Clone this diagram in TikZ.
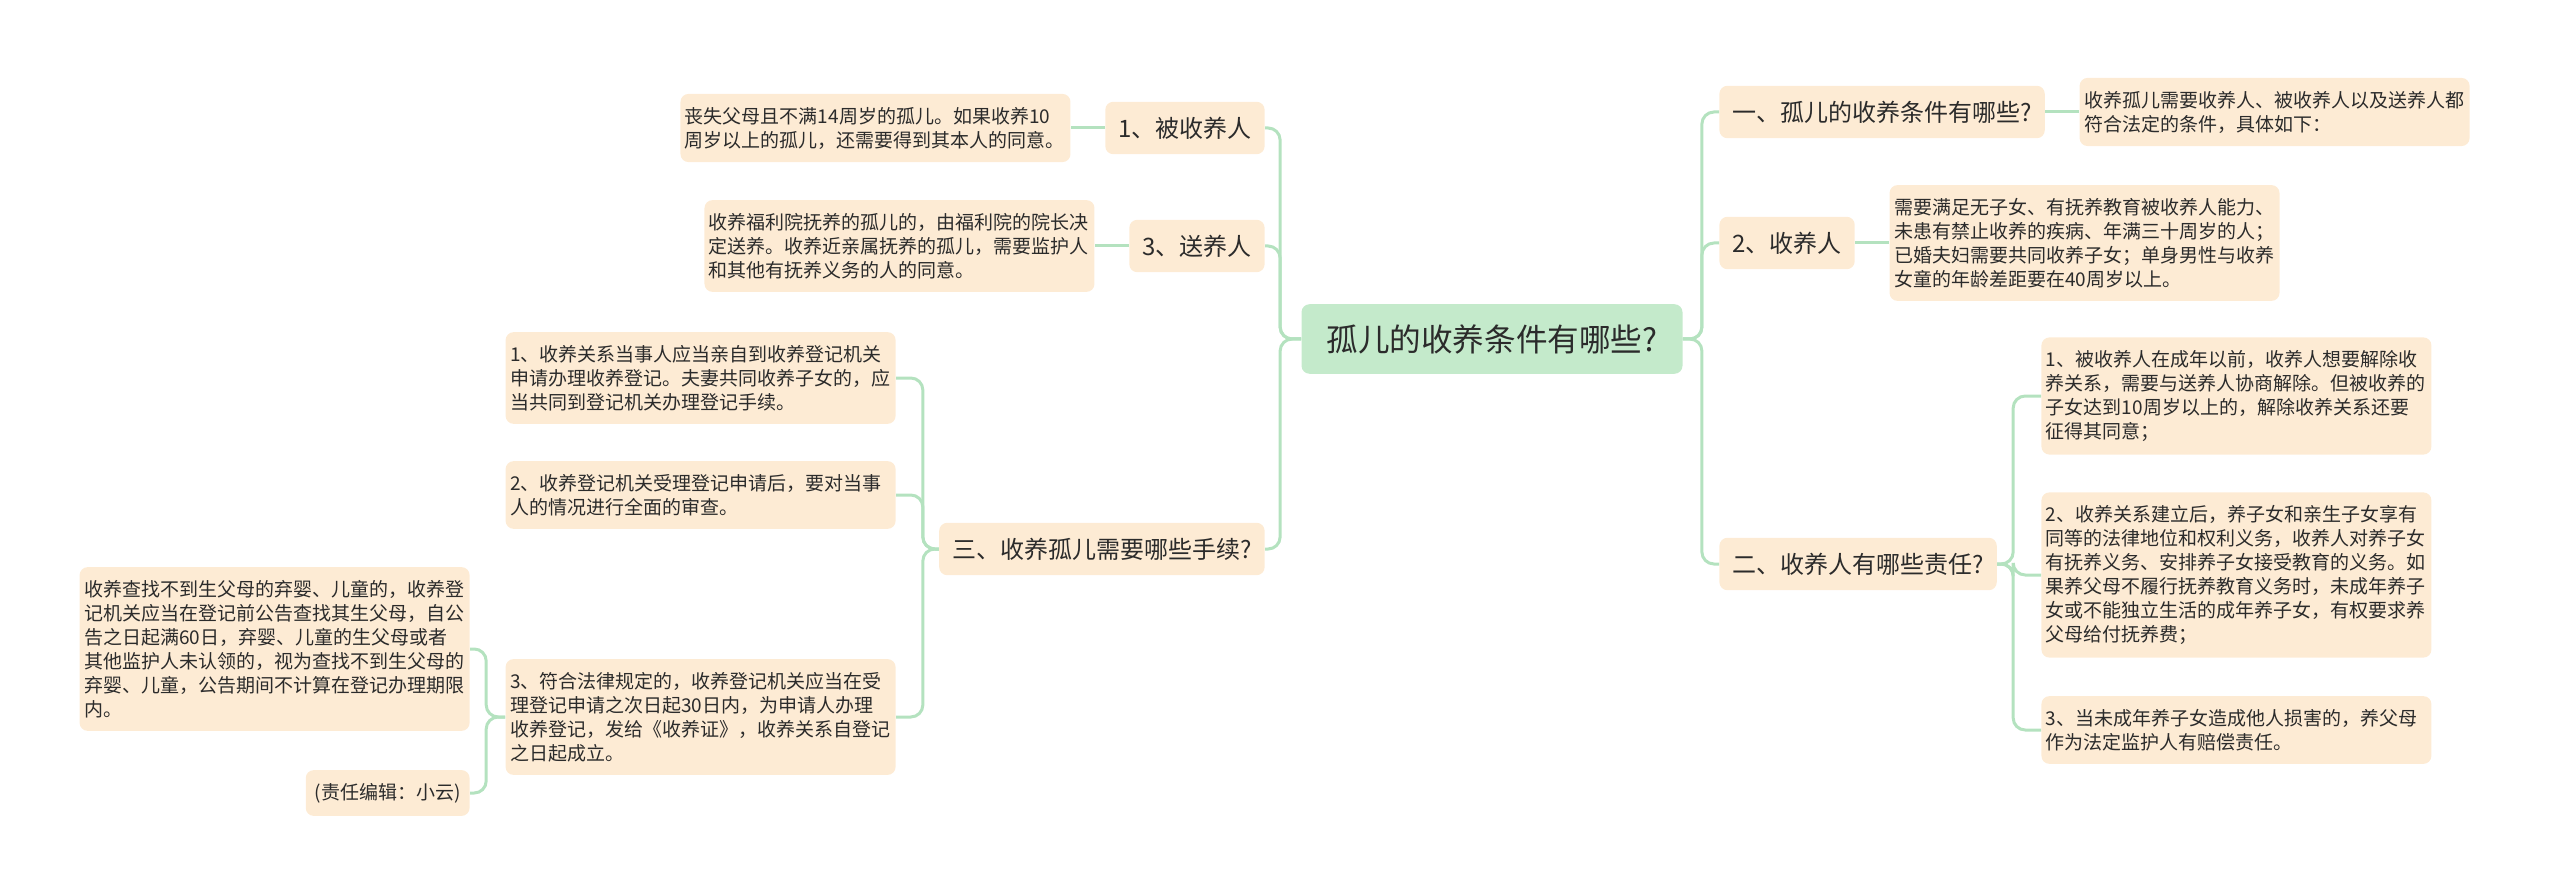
\documentclass[tikz,border=0pt]{standalone}
\usepackage{fontspec}
\newfontfamily\cjk{Noto Sans CJK SC}
\usetikzlibrary{positioning}
\definecolor{peach}{HTML}{FDEBD4}
\definecolor{mint}{HTML}{C4EACB}
\definecolor{stem}{HTML}{B4E2BF}
\definecolor{ink}{HTML}{2B2B2B}

\begin{document}
\begin{tikzpicture}[x=0.5pt,y=-0.5pt,node distance=17pt,
    root node/.style={fill=mint,rounded corners=4pt,text=ink,font=\cjk\fontsize{15.8}{18}\selectfont,inner xsep=12.5pt,inner ysep=10pt},
    branch node/.style={fill=peach,rounded corners=4pt,text=ink,font=\cjk\fontsize{12}{14}\selectfont,inner xsep=6.5pt,inner ysep=7.5pt},
    leaf node/.style={fill=peach,rounded corners=4pt,text=ink,font=\cjk\fontsize{9.5}{12}\selectfont,text width=190.5pt,align=left,inner xsep=2.25pt,inner ysep=6.5pt},
    note node/.style={fill=peach,rounded corners=4pt,text=ink,font=\cjk\fontsize{9.5}{12}\selectfont,inner xsep=4.5pt,inner ysep=6.5pt},
    link/.style={draw=stem,line width=1.5pt,rounded corners=6pt}]
\useasboundingbox (0,0) rectangle (2560,893);

\node[root node] (root) at (1492,339) {孤儿的收养条件有哪些?};

% left side
\node[branch node,anchor=east] (b1) at (1265,128) {1、被收养人};
\node[leaf node,left=of b1] (b1t) {丧失父母且不满14周岁的孤儿。如果收养10\\周岁以上的孤儿，还需要得到其本人的同意。};
\node[branch node,anchor=east] (b3) at (1265,246) {3、送养人};
\node[leaf node,left=of b3] (b3t) {收养福利院抚养的孤儿的，由福利院的院长决\\定送养。收养近亲属抚养的孤儿，需要监护人\\和其他有抚养义务的人的同意。};
\node[branch node,anchor=east] (s3) at (1265,549) {三、收养孤儿需要哪些手续?};
\node[leaf node,anchor=east] (s3a) at (896,378) {1、收养关系当事人应当亲自到收养登记机关\\申请办理收养登记。夫妻共同收养子女的，应\\当共同到登记机关办理登记手续。};
\node[leaf node,anchor=east] (s3b) at (896,495) {2、收养登记机关受理登记申请后，要对当事\\人的情况进行全面的审查。};
\node[leaf node,anchor=east] (s3c) at (896,717) {3、符合法律规定的，收养登记机关应当在受\\理登记申请之次日起30日内，为申请人办理\\收养登记，发给《收养证》，收养关系自登记\\之日起成立。};
\node[leaf node,anchor=east] (s3c1) at (470,649) {收养查找不到生父母的弃婴、儿童的，收养登\\记机关应当在登记前公告查找其生父母，自公\\告之日起满60日，弃婴、儿童的生父母或者\\其他监护人未认领的，视为查找不到生父母的\\弃婴、儿童，公告期间不计算在登记办理期限\\内。};
\node[note node,anchor=east] (s3c2) at (470,793) {(责任编辑：小云)};

% right side
\node[branch node,anchor=west] (q1) at (1719,112) {一、孤儿的收养条件有哪些?};
\node[leaf node,right=of q1] (q1t) {收养孤儿需要收养人、被收养人以及送养人都\\符合法定的条件，具体如下：};
\node[branch node,anchor=west] (b2) at (1719,243) {2、收养人};
\node[leaf node,right=of b2] (b2t) {需要满足无子女、有抚养教育被收养人能力、\\未患有禁止收养的疾病、年满三十周岁的人；\\已婚夫妇需要共同收养子女；单身男性与收养\\女童的年龄差距要在40周岁以上。};
\node[branch node,anchor=west] (q2) at (1719,564) {二、收养人有哪些责任?};
\node[leaf node,anchor=west] (q2a) at (2041,396) {1、被收养人在成年以前，收养人想要解除收\\养关系，需要与送养人协商解除。但被收养的\\子女达到10周岁以上的，解除收养关系还要\\征得其同意；};
\node[leaf node,anchor=west] (q2b) at (2041,575) {2、收养关系建立后，养子女和亲生子女享有\\同等的法律地位和权利义务，收养人对养子女\\有抚养义务、安排养子女接受教育的义务。如\\果养父母不履行抚养教育义务时，未成年养子\\女或不能独立生活的成年养子女，有权要求养\\父母给付抚养费；};
\node[leaf node,anchor=west] (q2c) at (2041,730) {3、当未成年养子女造成他人损害的，养父母\\作为法定监护人有赔偿责任。};

% connectors
\draw[link] (root.west) -- ++(-21,0) |- (b1.east);
\draw[link] (root.west) -- ++(-21,0) |- (b3.east);
\draw[link] (root.west) -- ++(-21,0) |- (s3.east);
\draw[link] (b1.west) -- (b1t.east);
\draw[link] (b3.west) -- (b3t.east);
\draw[link] (s3.west) -- ++(-16,0) |- (s3a.east);
\draw[link] (s3.west) -- ++(-16,0) |- (s3b.east);
\draw[link] (s3.west) -- ++(-16,0) |- (s3c.east);
\draw[link] (s3c.west) -- ++(-19,0) |- (s3c1.east);
\draw[link] (s3c.west) -- ++(-19,0) |- (s3c2.east);
\draw[link] (root.east) -- ++(19,0) |- (q1.west);
\draw[link] (root.east) -- ++(19,0) |- (b2.west);
\draw[link] (root.east) -- ++(19,0) |- (q2.west);
\draw[link] (q1.east) -- (q1t.west);
\draw[link] (b2.east) -- (b2t.west);
\draw[link] (q2.east) -- ++(16,0) |- (q2a.west);
\draw[link] (q2.east) -- ++(16,0) |- (q2b.west);
\draw[link] (q2.east) -- ++(16,0) |- (q2c.west);
\end{tikzpicture}
\end{document}
